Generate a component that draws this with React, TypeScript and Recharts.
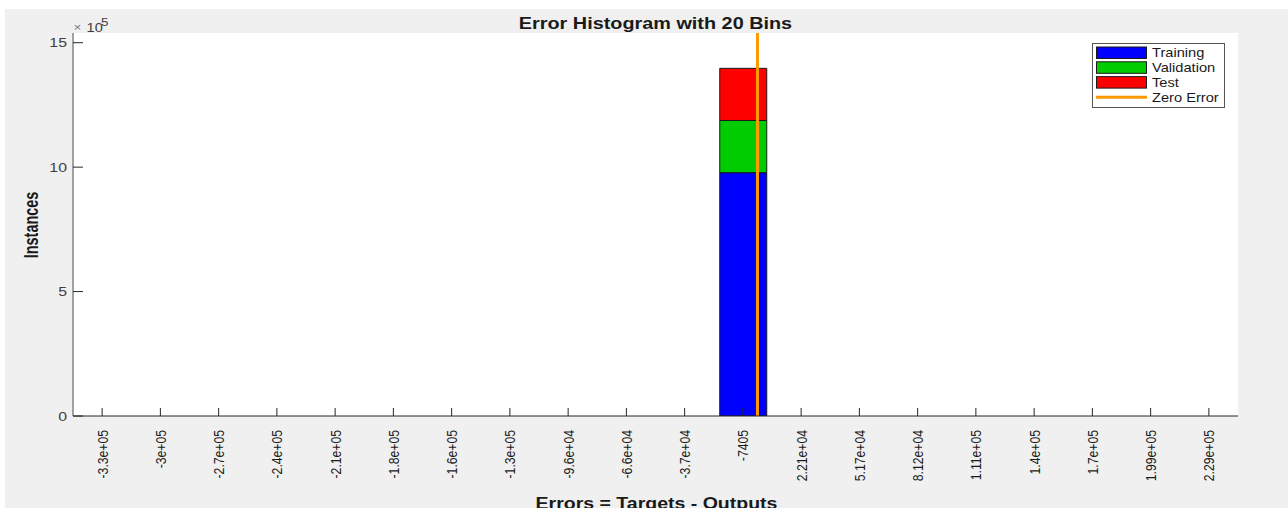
import React from "react";
import {
  Bar,
  BarChart,
  CartesianGrid,
  ReferenceLine,
  XAxis,
  YAxis,
} from "recharts";

// Bin centers of the 20-bin error histogram and the labels printed under them.
const binCenters = [
  -332345, -302805, -273265, -243725, -214185, -184645, -155105, -125565,
  -96025, -66485, -36945, -7405, 22135, 51675, 81215, 110755, 140295, 169835,
  199375, 228915,
];
const binLabels = [
  "-3.3e+05", "-3e+05", "-2.7e+05", "-2.4e+05", "-2.1e+05", "-1.8e+05",
  "-1.6e+05", "-1.3e+05", "-9.6e+04", "-6.6e+04", "-3.7e+04", "-7405",
  "2.21e+04", "5.17e+04", "8.12e+04", "1.11e+05", "1.4e+05", "1.7e+05",
  "1.99e+05", "2.29e+05",
];

// Instance counts per bin, one array per data split.
const trainingCounts = [0, 0, 0, 0, 0, 0, 0, 0, 0, 0, 0, 977900, 0, 0, 0, 0, 0, 0, 0, 0];
const validationCounts = [0, 0, 0, 0, 0, 0, 0, 0, 0, 0, 0, 209600, 0, 0, 0, 0, 0, 0, 0, 0];
const testCounts = [0, 0, 0, 0, 0, 0, 0, 0, 0, 0, 0, 209500, 0, 0, 0, 0, 0, 0, 0, 0];

const yTicks = [0, 500000, 1000000, 1500000];
const yMax = 1539000;
const binWidth = 29540;

const FONT = "'Liberation Sans', Arial, Helvetica, sans-serif";
const AXIS = "#262626";
// The figure is rendered a little wider than tall, so text gets stretched sideways.
const SX = 1.22;

const data = binCenters.map((center, i) => ({
  center,
  training: trainingCounts[i],
  validation: validationCounts[i],
  test: testCounts[i],
}));

function XTick({ x, y, payload }: any) {
  const idx = binCenters.indexOf(payload.value);
  return (
    <g>
      <line x1={x} x2={x} y1={y} y2={y - 8} stroke={AXIS} strokeWidth={1} />
      <text
        transform={`translate(${x + 5.5},${y + 14}) scale(${SX},1) rotate(-90)`}
        textAnchor="end"
        fontSize={12.2}
        fontFamily={FONT}
        fill="#1a1a1a"
      >
        {binLabels[idx]}
      </text>
    </g>
  );
}

function YTick({ x, y, payload }: any) {
  return (
    <g>
      <line x1={x} x2={x + 10} y1={y} y2={y} stroke={AXIS} strokeWidth={1} />
      <text
        transform={`translate(${x - 6},${y + 4.6}) scale(${SX},1)`}
        textAnchor="end"
        fontSize={13}
        fontFamily={FONT}
        fill="#404040"
      >
        {payload.value / 1e5}
      </text>
    </g>
  );
}

const legendItems = [
  { name: "Training", color: "#0000ff" },
  { name: "Validation", color: "#00cc00" },
  { name: "Test", color: "#ff0000" },
];

function LegendBox() {
  return (
    <svg
      width={133}
      height={65}
      style={{ position: "absolute", left: 1087, top: 34 }}
    >
      <rect x={0.5} y={0.5} width={132} height={64} fill="#fff" stroke="#555" />
      {legendItems.map((item, i) => (
        <g key={item.name}>
          <rect
            x={4.5}
            y={4 + i * 14.8}
            width={50}
            height={11.5}
            fill={item.color}
            stroke="#1a1a1a"
          />
          <text
            transform={`translate(60,${14 + i * 14.8}) scale(${SX},1)`}
            fontSize={12}
            fontFamily={FONT}
            fill="#1a1a1a"
          >
            {item.name}
          </text>
        </g>
      ))}
      <line x1={4} x2={55} y1={54.3} y2={54.3} stroke="#ff9900" strokeWidth={3} />
      <text
        transform={`translate(60,${58.6}) scale(${SX},1)`}
        fontSize={12}
        fontFamily={FONT}
        fill="#1a1a1a"
      >
        Zero Error
      </text>
    </svg>
  );
}

function Labels() {
  return (
    <svg
      width={1283}
      height={499}
      style={{ position: "absolute", left: 0, top: 0, overflow: "visible", pointerEvents: "none" }}
    >
      <text
        transform={`translate(650.5,20) scale(1.24,1)`}
        textAnchor="middle"
        fontSize={16}
        fontWeight="bold"
        fontFamily={FONT}
        fill="#1a1a1a"
      >
        Error Histogram with 20 Bins
      </text>
      <text
        transform={`translate(651.5,499.5) scale(${SX},1)`}
        textAnchor="middle"
        fontSize={16}
        fontWeight="bold"
        fontFamily={FONT}
        fill="#1a1a1a"
      >
        Errors = Targets - Outputs
      </text>
      <text
        transform={`translate(33,216) scale(1.25,0.9) rotate(-90)`}
        textAnchor="middle"
        fontSize={16}
        fontWeight="bold"
        fontFamily={FONT}
        fill="#1a1a1a"
      >
        Instances
      </text>
      <g fontFamily={FONT} fill="#404040">
        <text transform={`translate(68.5,22) scale(${SX},1)`} fontSize={11} fill="#777">
          ×
        </text>
        <text transform={`translate(81.5,22.5) scale(${SX},1)`} fontSize={12}>
          10
        </text>
        <text transform={`translate(96,17) scale(${SX},1)`} fontSize={11}>
          5
        </text>
      </g>
    </svg>
  );
}

export default function App() {
  return (
    <div
      style={{
        position: "absolute",
        left: 5,
        top: 9,
        width: 1283,
        height: 499,
        background: "#f0f0f0",
        overflow: "hidden",
      }}
    >
      <BarChart
        width={1283}
        height={499}
        data={data}
        margin={{ top: 24, right: 50, bottom: 0, left: 0 }}
      >
        <CartesianGrid horizontal={false} vertical={false} fill="#fff" />
        <XAxis
          dataKey="center"
          type="number"
          domain={[binCenters[0] - binWidth / 2, binCenters[19] + binWidth / 2]}
          ticks={binCenters}
          interval={0}
          height={92}
          tickSize={0}
          tickMargin={0}
          tick={<XTick />}
          axisLine={{ stroke: AXIS }}
          tickLine={false}
          allowDataOverflow
        />
        <YAxis
          type="number"
          domain={[0, yMax]}
          ticks={yTicks}
          width={68}
          tickSize={0}
          tickMargin={0}
          tick={<YTick />}
          axisLine={{ stroke: "#4d4d4d" }}
          tickLine={false}
          allowDataOverflow
        />
        <Bar dataKey="training" stackId="e" fill="#0000ff" stroke="#1a1a1a" strokeWidth={1} barSize={47} isAnimationActive={false} />
        <Bar dataKey="validation" stackId="e" fill="#00cc00" stroke="#1a1a1a" strokeWidth={1} barSize={47} isAnimationActive={false} />
        <Bar dataKey="test" stackId="e" fill="#ff0000" stroke="#1a1a1a" strokeWidth={1} barSize={47} isAnimationActive={false} />
        <ReferenceLine x={0} stroke="#ff9900" strokeWidth={3} />
      </BarChart>
      <Labels />
      <LegendBox />
    </div>
  );
}
